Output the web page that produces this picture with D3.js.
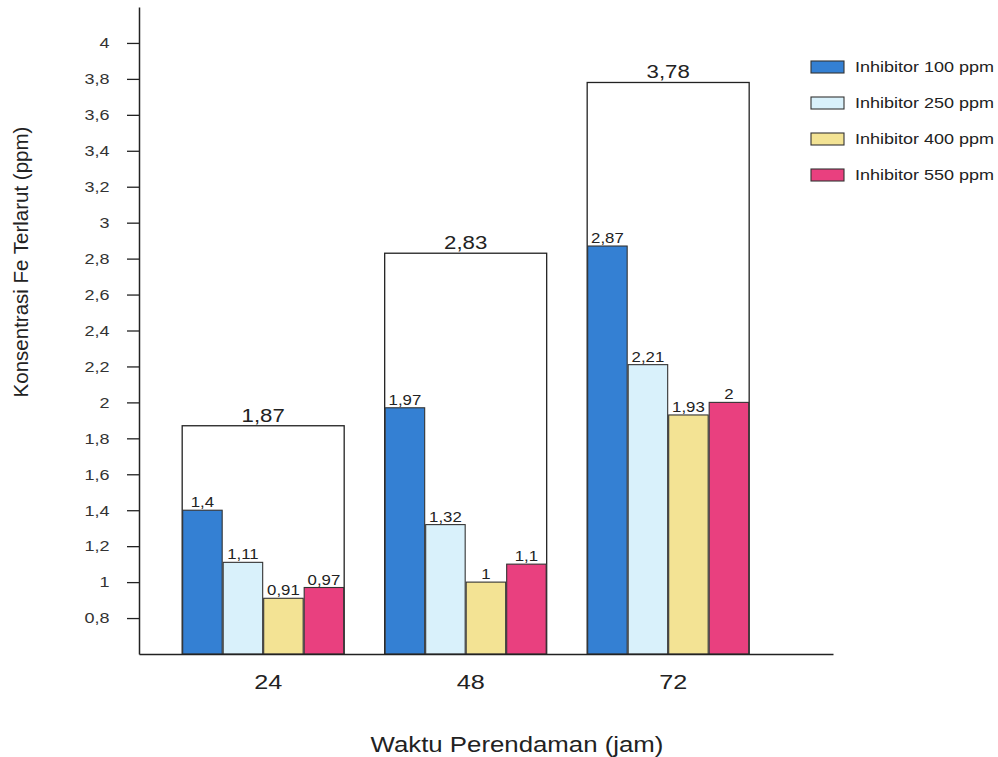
<!DOCTYPE html>
<html>
<head>
<meta charset="utf-8">
<script src="https://cdn.jsdelivr.net/npm/d3@7"></script>
<style>
  html, body { margin: 0; padding: 0; background: #fff; }
  svg { display: block; font-family: Arial, "Liberation Sans", sans-serif; }
</style>
</head>
<body>
<svg id="chart" width="998" height="757"></svg>
<script>
// ---- data ----
const categories = ["24", "48", "72"];
const seriesNames = ["Inhibitor 100 ppm", "Inhibitor 250 ppm", "Inhibitor 400 ppm", "Inhibitor 550 ppm"];
const inhibitor100 = [1.4, 1.97, 2.87];
const inhibitor250 = [1.11, 1.32, 2.21];
const inhibitor400 = [0.91, 1.0, 1.93];
const inhibitor550 = [0.97, 1.1, 2.0];
const totals = [1.87, 2.83, 3.78];
const yTicks = [0.8, 1, 1.2, 1.4, 1.6, 1.8, 2, 2.2, 2.4, 2.6, 2.8, 3, 3.2, 3.4, 3.6, 3.8, 4];
const colors = ["#3480d3", "#d9f1fb", "#f3e394", "#e9407f"];

const series = [inhibitor100, inhibitor250, inhibitor400, inhibitor550];
const fmt = v => String(+v.toFixed(2)).replace(".", ",");
const SX = 1.2; // horizontal stretch of the scanned text

const svg = d3.select("#chart");

const y = d3.scaleLinear().domain([0.6, 4.2]).range([654, 7]);
const x = d3.scaleBand().domain(categories).range([139, 833])
  .paddingInner(0.2).paddingOuter(0.3136).align(0.34);
const xs = d3.scaleBand().domain(d3.range(series.length)).range([0, x.bandwidth()]);

// helper: stretched text
function stext(g, tx, ty, str, size, anchor) {
  return g.append("text")
    .attr("transform", `translate(${tx},${ty}) scale(${SX},1)`)
    .attr("text-anchor", anchor || "middle")
    .attr("font-size", size)
    .attr("fill", "#222")
    .text(str);
}

// total boxes
const boxes = svg.append("g");
categories.forEach((c, i) => {
  boxes.append("rect")
    .attr("x", x(c)).attr("y", y(totals[i]))
    .attr("width", x.bandwidth()).attr("height", y(0.6) - y(totals[i]))
    .attr("fill", "#fff").attr("stroke", "#222").attr("stroke-width", 1.3);
  stext(boxes, x(c) + x.bandwidth() / 2, y(totals[i]) - 4, fmt(totals[i]), 18.5);
});

// bars
const bars = svg.append("g");
categories.forEach((c, i) => {
  series.forEach((s, j) => {
    bars.append("rect")
      .attr("x", x(c) + xs(j) + 0.5).attr("y", y(s[i]))
      .attr("width", xs.bandwidth() - 1).attr("height", y(0.6) - y(s[i]))
      .attr("fill", colors[j]).attr("stroke", "#333").attr("stroke-width", 1.1);
    stext(bars, x(c) + xs(j) + xs.bandwidth() / 2, y(s[i]) - 3, fmt(s[i]), 14);
  });
});

// y axis
const yAxis = svg.append("g").attr("transform", "translate(139,0)")
  .call(d3.axisLeft(y).tickValues(yTicks).tickSize(12).tickSizeOuter(0).tickPadding(9).tickFormat(fmt));
yAxis.select(".domain").attr("stroke", "#222").attr("stroke-width", 1.5);
yAxis.selectAll(".tick line").attr("stroke", "#222").attr("stroke-width", 1.3);
yAxis.selectAll(".tick text").each(function () {
  const t = d3.select(this);
  t.attr("font-size", 15).attr("fill", "#333").attr("font-family", "Arial, 'Liberation Sans', sans-serif")
    .attr("transform", `translate(${-21 * (SX - 1)},0) scale(${SX},1)`);
});

// x axis
const xAxis = svg.append("g").attr("transform", `translate(0,${y(0.6)})`)
  .call(d3.axisBottom(x).tickSize(0).tickSizeOuter(0).tickFormat(() => ""));
xAxis.select(".domain").attr("stroke", "#222").attr("stroke-width", 1.5);
categories.forEach(c => {
  stext(svg, x(c) + x.bandwidth() / 2 + 5, 689, c, 21);
});

// axis titles
stext(svg, 517, 752, "Waktu Perendaman (jam)", 21.5);
svg.append("text")
  .attr("transform", "translate(28,262) rotate(-90)")
  .attr("text-anchor", "middle").attr("font-size", 20.5).attr("fill", "#222")
  .text("Konsentrasi Fe Terlarut (ppm)");

// legend
const legend = svg.append("g");
seriesNames.forEach((n, j) => {
  const cy = 67 + j * 36;
  legend.append("rect").attr("x", 811).attr("y", cy - 6).attr("width", 33).attr("height", 12)
    .attr("fill", colors[j]).attr("stroke", "#333").attr("stroke-width", 1.1);
  stext(legend, 855, cy + 5, n, 15, "start");
});
</script>
</body>
</html>
